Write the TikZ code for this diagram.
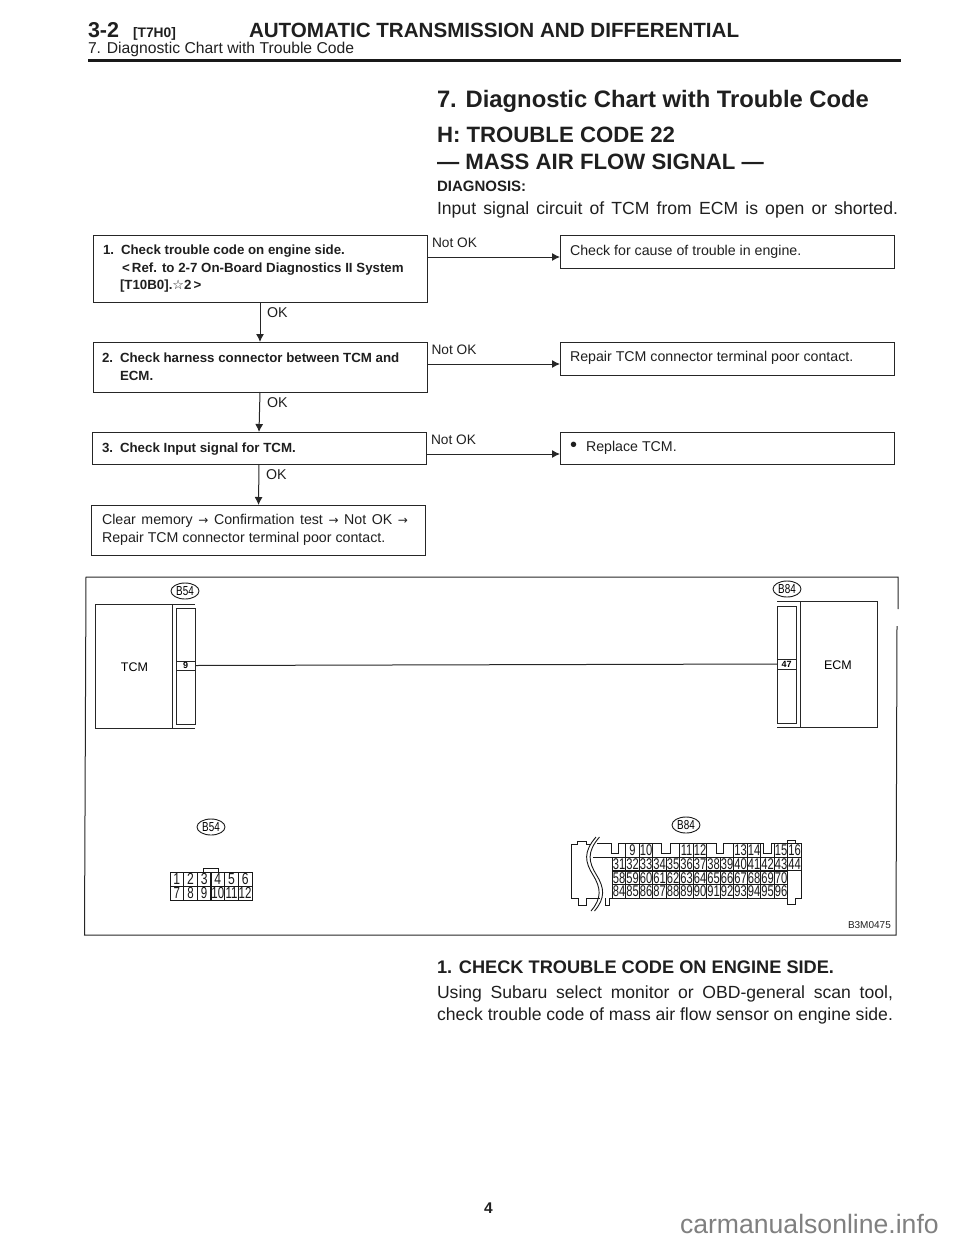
\documentclass[tikz,border=0pt]{standalone}
\usepackage{fontspec}
\setmainfont{Liberation Sans}
\newfontfamily\dejavu{DejaVu Sans}
\usetikzlibrary{shapes.geometric,arrows.meta}
\newcommand{\fs}[1]{\fontsize{#1}{#1}\selectfont}
\newcommand{\arw}{{\dejavu\fs{12}→}}
\tikzset{
  lab/.style={anchor=base west,inner sep=0pt,outer sep=0pt,text=black!88},
  stepbox/.style={draw=black!85,line width=1pt,anchor=north west,inner sep=0pt,outer sep=0pt},
  arr/.style={line width=1pt,draw=black!85,-{Latex[length=8pt,width=8pt]}},
  ln/.style={line width=1pt,draw=black!85},
  thin line/.style={line width=.9pt,draw=black!90},
  plug/.style={draw=black!90,line width=.9pt,ellipse,inner sep=0pt,minimum width=28pt,minimum height=16pt,font=\fs{13}},
  cell/.style={draw=black!90,line width=.9pt,inner sep=0pt,minimum width=13.6pt,minimum height=14pt,font=\fs{16},text=black!90},
  bcell/.style={cell,minimum width=13.5pt,minimum height=13.7pt,font=\fs{15.5}},
}
\newcommand{\nar}[1]{\scalebox{.76}[1]{#1}}
\newcommand{\thr}[1]{\scalebox{.72}[1]{#1}}
\begin{document}
\begin{tikzpicture}[x=1pt,y=-1pt]
\useasboundingbox (0,0) rectangle (960,1242);
% header
\node[lab,font=\bfseries\fs{21.5}] (h1) at (88,37) {3-2};
\node[lab,font=\bfseries\fs{13.8}] (h2) at (133,37.5) {[T7H0]};
\node[lab,font=\bfseries\fs{20.6}] (h3) at (249,37) {AUTOMATIC TRANSMISSION AND DIFFERENTIAL};
\node[lab,font=\fs{15.7}] (h4) at (88,53) {7. Diagnostic Chart with Trouble Code};
\coordinate (ruleL) at (88,60.5);
\coordinate (ruleR) at (901,60.5);
\draw[line width=3.5pt,black!90] (ruleL) -- (ruleR);
% titles
\node[lab,font=\bfseries\fs{23.8}] (t1) at (437,107) {7. Diagnostic Chart with Trouble Code};
\node[lab,font=\bfseries\fs{22.2}] (t2) at (437,142) {H: TROUBLE CODE 22};
\node[lab,font=\bfseries\fs{22.2}] (t3) at (437,169) {— MASS AIR FLOW SIGNAL —};
\node[lab,font=\bfseries\fs{15}] (t4) at (437,191) {DIAGNOSIS:};
\node[lab,font=\fs{17.6}] (t5) at (437,214) {\makebox[461pt][s]{Input signal circuit of TCM from ECM is open or shorted.}};
% flow boxes
\node[stepbox,minimum width=334pt,minimum height=67pt] (b1) at (93,235) {};
\node[stepbox,minimum width=334pt,minimum height=50pt] (b2) at (93,342) {};
\node[stepbox,minimum width=334pt,minimum height=32pt] (b3) at (92,432) {};
\node[stepbox,minimum width=334pt,minimum height=50pt] (b4) at (91.5,505) {};
\node[stepbox,minimum width=334pt,minimum height=33pt] (r1) at (560,235) {};
\node[stepbox,minimum width=334pt,minimum height=33pt] (r2) at (560,342) {};
\node[stepbox,minimum width=334pt,minimum height=32pt] (r3) at (560,432) {};
\draw[arr] (b1.south) -- (b2.north);
\draw[arr] (b2.south) -- (b3.north);
\draw[arr] (b3.south) -- (b4.north);
\coordinate (y1) at (500,257);
\coordinate (y2) at (500,364);
\coordinate (y3) at (500,454);
\draw[arr] (b1.east |- y1) -- (r1.west |- y1);
\draw[arr] (b2.east |- y2) -- (r2.west |- y2);
\draw[arr] (b3.east |- y3) -- (r3.west |- y3);
% flow text
\tikzset{bt/.style={lab,font=\bfseries\fs{13.3}},nt/.style={lab,font=\fs{14.2}},ot/.style={lab,font=\fs{13.7}}}
\node[bt] (n1) at (103,254) {1.};
\node[bt] (n1a) at (121,254) {Check trouble code on engine side.};
\node[bt] (n1b) at (122,272) {<\,Ref. to 2-7 On-Board Diagnostics II System};
\node[bt] (n1c) at (120,289) {[T10B0].{\dejavu\fs{13}☆}2\,>};
\node[bt] (n2) at (102,362) {2.};
\node[bt] (n2a) at (120,362) {Check harness connector between TCM and};
\node[bt] (n2b) at (120,380) {ECM.};
\node[bt] (n3) at (102,452) {3.};
\node[bt] (n3a) at (120,452) {Check Input signal for TCM.};
\node[nt] (n4a) at (102,524) {\makebox[306pt][s]{Clear memory \arw{} Confirmation test \arw{} Not OK \arw}};
\node[nt] (n4b) at (102,542) {Repair TCM connector terminal poor contact.};
\node[nt] (ok1) at (267,317) {OK};
\node[nt] (ok2) at (267,407) {OK};
\node[nt] (ok3) at (266,479) {OK};
\node[ot] (no1) at (432,247) {Not OK};
\node[ot] (no2) at (431.5,354) {Not OK};
\node[ot] (no3) at (431,444) {Not OK};
\node[nt] (r1t) at (570,255) {Check for cause of trouble in engine.};
\node[nt] (r2t) at (570,361) {Repair TCM connector terminal poor contact.};
\node[nt] (r3t) at (570,451) {\makebox[16pt][l]{\fs{20}\raisebox{-.8pt}{•}}Replace TCM.};
% wiring frame
\coordinate (f1) at (86,577);
\coordinate (f2) at (898,577);
\coordinate (f3) at (898,609);
\coordinate (f4) at (897,626);
\coordinate (f5) at (896,935);
\coordinate (f6) at (84.5,935);
\draw[ln] (f3) -- (f2) -- (f1) -- (f6) -- (f5) -- (f4);
% TCM
\node[stepbox,minimum width=77pt,minimum height=124pt] (tcm) at (95,604) {};
\node[inner sep=0pt,font=\fs{12.5}] (tcmt) at (134.5,667) {TCM};
\coordinate (tr) at (195,604);
\coordinate (br) at (195,728);
\draw[ln] (tcm.north east) -- (tr);
\draw[ln] (tcm.south east) -- (br);
\node[stepbox,minimum width=18.5pt,minimum height=116pt] (cL) at (176.5,608) {};
\node[stepbox,line width=.8pt,minimum width=18.5pt,minimum height=9pt,font=\bfseries\fs{9}] (p9) at (176.5,661) {9};
% ECM
\node[stepbox,minimum width=77pt,minimum height=126pt] (ecm) at (800,601) {};
\node[inner sep=0pt,font=\fs{12.5}] (ecmt) at (838,665) {ECM};
\coordinate (tl) at (777,601);
\coordinate (bl) at (777,727);
\draw[ln] (ecm.north west) -- (tl);
\draw[ln] (ecm.south west) -- (bl);
\node[stepbox,minimum width=19pt,minimum height=117pt] (cR) at (777,606) {};
\node[stepbox,line width=.8pt,minimum width=19pt,minimum height=10pt,font=\bfseries\fs{9}] (p47) at (777,659) {47};
\draw[ln] (p9.east) -- (p47.west);
% plugs
\node[plug] (o1) at (185,591) {\nar{B54}};
\node[plug] (o2) at (211,827) {\nar{B54}};
\node[plug] (o3) at (787,589) {\nar{B84}};
\node[plug] (o4) at (686,825) {\nar{B84}};
% B54 grid
\coordinate (ta) at (203,872);
\coordinate (tb) at (203,868);
\coordinate (tc) at (218,868);
\coordinate (td) at (218,872);
\draw[thin line] (ta) -- (tb) -- (tc) -- (td);
\foreach \n [count=\i from 0] in {1,2,3,4,5,6}
  \node[cell] (a\n) at (176.8+13.67*\i,879) {\nar{\n}};
\foreach \n [count=\i from 0] in {7,8,9,10,11,12}
  \node[cell] (a\n) at (176.8+13.67*\i,893) {\thr{\n}};
% B84 connector
\foreach \n/\i in {9/1,10/2,11/5,12/6,13/9,14/10,15/12,16/13}
  \node[bcell] (t\n) at (619.05+13.5*\i,850.2) {\thr{\n}};
\foreach \n [count=\i from 0] in {31,32,33,34,35,36,37,38,39,40,41,42,43,44}
  \node[bcell] (u\n) at (619.05+13.5*\i,864) {\thr{\n}};
\foreach \n [count=\i from 0] in {58,59,60,61,62,63,64,65,66,67,68,69,70}
  \node[bcell] (v\n) at (619.05+13.5*\i,878) {\thr{\n}};
\foreach \n [count=\i from 0] in {84,85,86,87,88,89,90,91,92,93,94,95,96}
  \node[bcell] (w\n) at (619.05+13.5*\i,891.5) {\thr{\n}};
\draw[thin line] (597,843.3) -- (611.7,843.3) -- (611.7,853) -- (618.3,853) -- (618.3,843.3) -- (661.7,843.3) -- (661.7,853) -- (670,853) -- (670,843.3) -- (716.7,843.3) -- (716.7,853) -- (723.3,853) -- (723.3,843.3) -- (763,843.3) -- (763,853) -- (771,853) -- (771,843.3) -- (787,843.3) -- (787,840) -- (795,840) -- (795,843.3) -- (801.3,843.3) -- (801.3,898.3) -- (795,898.3) -- (795,904) -- (787,904) -- (787,898.3);
\draw[thin line] (593,857) -- (612.3,857);
\draw[thin line] (591,844) -- (586,844) -- (586,841) -- (577,841) -- (577,844) -- (571.7,844) -- (571.7,898.3) -- (578,898.3) -- (578,905) -- (586,905) -- (586,898.3) -- (600,898.3);
\draw[thin line] (605,898.3) -- (605,905) -- (609,905) -- (609,898.3) -- (612,898.3);
\draw[thin line] (596,837) .. controls (583,852) and (585,862) .. (593,875) .. controls (601,888) and (602,898) .. (591,911);
\draw[thin line] (599.5,837) .. controls (586.5,852) and (588.5,862) .. (596.5,875) .. controls (604.5,888) and (605.5,898) .. (594.5,911);
\node[lab,font=\fs{10}] (code) at (848,928) {B3M0475};
% body
\node[lab,font=\bfseries\fs{18.2}] (c1) at (437,973) {1. CHECK TROUBLE CODE ON ENGINE SIDE.};
\node[lab,font=\fs{17.6}] (c2) at (437,998) {\makebox[456pt][s]{Using Subaru select monitor or OBD-general scan tool,}};
\node[lab,font=\fs{17.6}] (c3) at (437,1020) {\makebox[456pt][s]{check trouble code of mass air flow sensor on engine side.}};
\node[lab,font=\bfseries\fs{15.5}] (pg) at (484,1213) {4};
\node[lab,font=\fs{26.6},text=black!50] (wm) at (680,1233) {carmanualsonline.info};
\end{tikzpicture}
\end{document}
